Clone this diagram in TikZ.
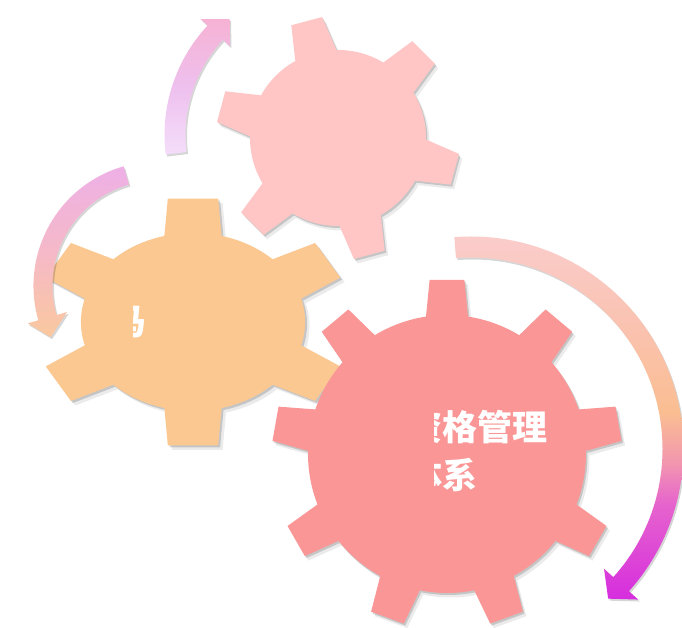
\documentclass[tikz,border=0pt]{standalone}
\usepackage{fontspec}
\newfontfamily\cjk{Noto Sans CJK SC}
\definecolor{gpink}{RGB}{255,198,197}
\definecolor{gorange}{RGB}{251,200,146}
\definecolor{gred}{RGB}{250,150,150}
\definecolor{tA}{RGB}{244,222,250}
\definecolor{tB}{RGB}{238,192,238}
\definecolor{tC}{RGB}{246,178,212}
\definecolor{lA}{RGB}{250,200,158}
\definecolor{lB}{RGB}{245,185,200}
\definecolor{lC}{RGB}{238,176,230}
\definecolor{rA}{RGB}{214,45,222}
\definecolor{rB}{RGB}{230,100,205}
\definecolor{rC}{RGB}{242,150,175}
\definecolor{rD}{RGB}{250,190,145}
\definecolor{rE}{RGB}{250,195,178}
\definecolor{rF}{RGB}{250,205,205}
\pgfdeclareverticalshading{shTop}{100bp}{color(0bp)=(tA); color(25bp)=(tA); color(50bp)=(tB); color(75bp)=(tC); color(100bp)=(tC)}
\pgfdeclareverticalshading{shLeft}{100bp}{color(0bp)=(lA); color(25bp)=(lA); color(50bp)=(lB); color(75bp)=(lC); color(100bp)=(lC)}
\pgfdeclareverticalshading{shRight}{100bp}{color(0bp)=(rA); color(25bp)=(rA); color(37.9bp)=(rB); color(43.4bp)=(rC); color(50.2bp)=(rD); color(62.5bp)=(rE); color(75bp)=(rF); color(100bp)=(rF)}
% #1 options, #2 n, #3 r, #4 R, #5 base half angle, #6 tip half angle, #7 offset, #8 index list
\newcommand\gearshape[8]{%
  \path[#1] ({#7-#5}:#3)
    \foreach \i in {#8} {
      -- ({#7+\i*360/#2-#6}:#4) -- ({#7+\i*360/#2+#6}:#4) -- ({#7+\i*360/#2+#5}:#3)
      arc[start angle={#7+\i*360/#2+#5}, end angle={#7+(\i+1)*360/#2-#5}, radius=#3]
    } -- cycle;}
% #1 options, #2 r, #3 half width, #4 start angle, #5 head base angle, #6 head half width, #7 tip angle, #8 tip radius
\newcommand\curvedarrow[8]{%
  \path[#1] (#4:{#2+#3}) arc[start angle=#4, end angle=#5, radius={#2+#3}]
    -- (#5:{#2+#6}) -- (#7:#8) -- (#5:{#2-#6}) -- (#5:{#2-#3})
    arc[start angle=#5, end angle=#4, radius={#2-#3}] -- cycle;}
\tikzset{
  shA/.style={fill=black, opacity=0.16, shift={(1.5,-2)}},
  shB/.style={fill=black, opacity=0.08, shift={(3.5,-4.5)}},
  txt/.style={text=white, font=\cjk\bfseries\fontsize{35}{40}\selectfont, inner sep=0pt}
}
\begin{document}
\begin{tikzpicture}[x=1pt,y=1pt]
\useasboundingbox (0,0) rectangle (682,628);
\fill[white] (0,0) rectangle (682,628);
% top pink gear
\begin{scope}[shift={(338,490)}]
  \gearshape{shB}{6}{88}{122}{14}{7.5}{-15}{0,...,5}
  \gearshape{shA}{6}{88}{122}{14}{7.5}{-15}{0,...,5}
  \gearshape{fill=gpink}{6}{88}{122}{14}{7.5}{-15}{0,...,5}
\end{scope}
% orange gear
\begin{scope}[shift={(193,306)}, xscale=1.26]
  \gearshape{shB}{6}{89}{125}{14.8}{9.2}{30}{0,...,5}
  \gearshape{shA}{6}{89}{125}{14.8}{9.2}{30}{0,...,5}
  \gearshape{fill=gorange}{6}{89}{125}{14.8}{9.2}{30}{0,...,5}
\end{scope}
% red gear
\begin{scope}[shift={(447,174)}]
  \gearshape{shB}{9}{139}{175}{8.7}{5.7}{10}{0,...,8}
  \gearshape{shA}{9}{139}{175}{8.7}{5.7}{10}{0,...,8}
  \gearshape{fill=gred}{9}{139}{175}{8.7}{5.7}{10}{0,...,8}
\end{scope}
% arrows
\begin{scope}[shift={(325,493)}]
  \curvedarrow{shA}{150}{10.5}{187}{137}{20}{129.5}{150}
  \curvedarrow{shading=shTop}{150}{10.5}{187}{137}{20}{129.5}{150}
\end{scope}
\begin{scope}[shift={(158,342)}]
  \curvedarrow{shA}{115}{9.5}{106}{196}{20.5}{205.5}{119}
  \curvedarrow{shading=shLeft}{115}{9.5}{106}{196}{20.5}{205.5}{119}
\end{scope}
\begin{scope}[shift={(471,179)}]
  \curvedarrow{shA}{202}{10.5}{94.5}{-42}{23}{-47.5}{203}
  \curvedarrow{shading=shRight}{202}{10.5}{94.5}{-42}{23}{-47.5}{203}
\end{scope}
% texts (clipped as in the reference)
\begin{scope}
  \clip (434,120) rectangle (600,240);
  \node[txt, anchor=west] (t1) at (407,201) {资格管理};
  \node[txt, anchor=west] (t2) at (407,153) {体系};
\end{scope}
\begin{scope}
  \clip (133,280) rectangle (160,330);
  \node[txt, anchor=east] (t3) at (147,306) {马};
\end{scope}
\end{tikzpicture}
\end{document}
